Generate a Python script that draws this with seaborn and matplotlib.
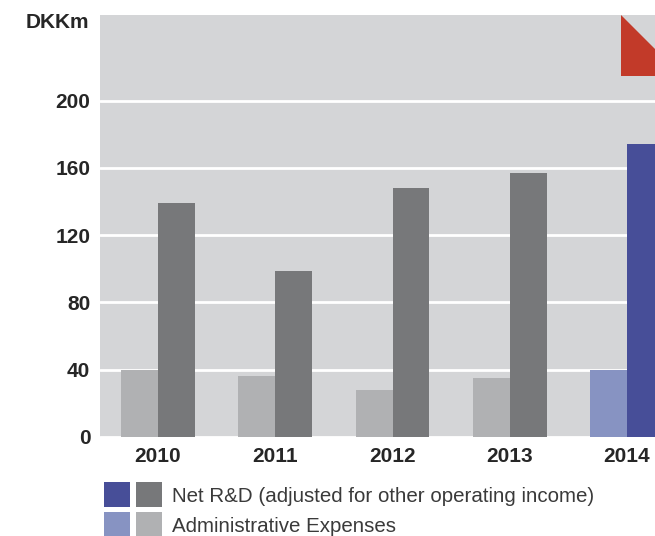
import pandas as pd
import numpy as np
from matplotlib import pyplot as plt
from matplotlib.patches import Rectangle, Polygon
import seaborn as sns

# data (DKKm)
years = ['2010', '2011', '2012', '2013', '2014']
admin_expenses = [40, 36, 28, 35, 40]
net_rd = [139, 99, 148, 157, 174]
series_names = ['Administrative Expenses', 'Net R&D (adjusted for other operating income)']
y_ticks = [0, 40, 80, 120, 160, 200]

# colours
bg = '#d4d5d7'
grey_light = '#b0b1b3'
grey_dark = '#77787a'
blue_light = '#8793c2'
blue_dark = '#474e98'
red = '#c23a29'

df = pd.DataFrame({
    'year': years * 2,
    'value': admin_expenses + net_rd,
    'series': [series_names[0]] * len(years) + [series_names[1]] * len(years),
})

sns.set_style('white')
plt.rcParams['font.family'] = ['Liberation Sans', 'DejaVu Sans']

fig = plt.figure(figsize=(6.55, 5.36), dpi=100)
ax = fig.add_axes([100 / 655, 1 - 437 / 536, 1 - 100 / 655, (437 - 15) / 536])
ax.set_facecolor(bg)

sns.barplot(data=df, x='year', y='value', hue='series', hue_order=series_names,
            palette=[grey_light, grey_dark], width=0.631, linewidth=0,
            saturation=1, legend=False, ax=ax)

# highlight the latest year in blue
ax.containers[0][-1].set_facecolor(blue_light)
ax.containers[1][-1].set_facecolor(blue_dark)

ax.set_ylim(0, 251)
ax.set_xlim(-0.495, 4.239)
ax.set_yticks(y_ticks)
ax.grid(axis='y', color='white', linewidth=2)
ax.set_axisbelow(True)
for s in ax.spines.values():
    s.set_visible(False)
ax.tick_params(axis='y', length=0, labelsize=15, pad=7)
ax.tick_params(axis='x', length=0, labelsize=15, pad=7)
for lab in ax.get_xticklabels() + ax.get_yticklabels():
    lab.set_fontweight('bold')
ax.set_xlabel('')
ax.set_ylabel('')

fig.text(89 / 655, 1 - 22 / 536, 'DKKm', ha='right', va='center',
         fontsize=15, fontweight='bold')

# red folded corner
fig.patches.append(Polygon([(621 / 655, 1 - 15 / 536), (1.0, 1 - 49 / 536),
                            (1.0, 1 - 76 / 536), (621 / 655, 1 - 76 / 536)],
                           closed=True, transform=fig.transFigure,
                           facecolor=red, edgecolor='none'))

# legend
rows = [(series_names[1], blue_dark, grey_dark, 482),
        (series_names[0], blue_light, grey_light, 512)]
for text, c1, c2, top in rows:
    for x0, c in ((104, c1), (136, c2)):
        fig.patches.append(Rectangle((x0 / 655, 1 - (top + 25) / 536), 26 / 655, 25 / 536,
                                     transform=fig.transFigure, facecolor=c,
                                     edgecolor='none'))
    fig.text(172 / 655, 1 - (top + 14) / 536, text, ha='left', va='center',
             fontsize=14.8, color='#3a3a3a')

plt.savefig('out.png', dpi=100)
